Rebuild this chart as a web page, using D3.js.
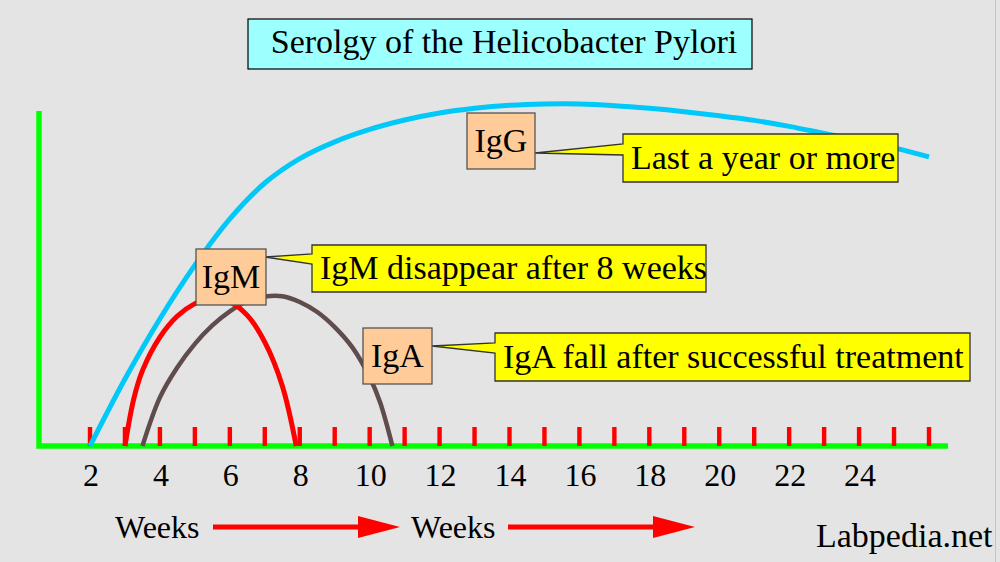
<!DOCTYPE html>
<html>
<head>
<meta charset="utf-8">
<script src="https://cdn.jsdelivr.net/npm/d3@7"></script>
<style>
  html, body { margin: 0; padding: 0; background: #e4e4e4; }
  svg { display: block; }
  text { font-family: "Liberation Serif", "Times New Roman", serif; fill: #000; }
</style>
</head>
<body>
<svg id="chart" width="1000" height="562"></svg>
<script>
// ---------- DATA ----------
const titleText = "Serolgy of the Helicobacter Pylori";
const tickWeeks = [2,3,4,5,6,7,8,9,10,11,12,13,14,15,16,17,18,19,20,21,22,23,24,25,26];
const tickLabels = [2,4,6,8,10,12,14,16,18,20,22,24];

const igGWeeks  = [2, 3, 4, 5, 6, 7, 8, 9, 10, 11, 12, 13, 14, 15, 16, 17, 18, 19, 20, 21, 22, 23, 24, 25, 26];
const igGValues = [0, 20, 38, 54, 67.8, 78.5, 85.8, 90.8, 94.5, 97.3, 99.4, 100.8, 101.7, 102.1, 102.1, 101.6, 100.8, 99.8, 98.6, 97.2, 95.4, 93.3, 91.2, 89, 86.3];

const igMWeeks  = [3, 3.25, 3.5, 4, 4.5, 5, 5.5, 6, 6.5, 7, 7.5, 7.9];
const igMValues = [0, 14, 22.5, 32.5, 38.8, 42.5, 44.3, 43, 39, 31, 18, 0];

const igAWeeks  = [3.5, 4, 4.5, 5, 5.5, 6, 6.5, 7, 7.5, 8, 8.5, 9, 9.5, 10, 10.3, 10.65];
const igAValues = [0, 14.5, 23.5, 30.5, 36, 40.2, 43.2, 44.6, 44.7, 43, 40, 35.5, 29.5, 20.5, 13, 0];

const seriesNames = ["IgG", "IgM", "IgA"];
const calloutTexts = ["Last a year or more", "IgM disappear after 8 weeks", "IgA fall after successful treatment"];
const axisWord = "Weeks";
const credit = "Labpedia.net";

// ---------- SETUP ----------
const svg = d3.select("#chart");
const x = d3.scaleLinear().domain([2, 26]).range([90, 929]);
const y = d3.scaleLinear().domain([0, 100]).range([446, 111]);

svg.append("rect").attr("width", 1000).attr("height", 562).attr("fill", "#e4e4e4");
svg.append("line").attr("x1", 995.5).attr("x2", 995.5).attr("y1", 0).attr("y2", 562)
  .attr("stroke", "#c4c4c4").attr("stroke-width", 1);

// Title
svg.append("rect").attr("x", 248).attr("y", 19).attr("width", 504).attr("height", 50)
  .attr("fill", "#9effff").attr("stroke", "#000").attr("stroke-width", 1.2);
svg.append("text").attr("x", 504).attr("y", 53).attr("text-anchor", "middle")
  .attr("font-size", 34).text(titleText);

// Axes frame (green)
svg.append("path")
  .attr("d", `M39,${y(100)} L39,${y(0)} L948,${y(0)}`)
  .attr("fill", "none").attr("stroke", "#00ff00").attr("stroke-width", 5.5)
  .attr("stroke-linejoin", "miter");

// Red ticks
svg.append("g").selectAll("rect").data(tickWeeks).join("rect")
  .attr("x", d => x(d) - 2.2).attr("y", 427).attr("width", 4.4).attr("height", 19)
  .attr("fill", "#ff0000");

// Tick labels
svg.append("g").selectAll("text").data(tickLabels).join("text")
  .attr("x", d => x(d) + 1).attr("y", 486).attr("text-anchor", "middle")
  .attr("font-size", 32).text(d => d);

// Curves
const line = d3.line().x(d => x(d[0])).y(d => y(d[1])).curve(d3.curveCatmullRom.alpha(0.5));
const zip = (a, b) => a.map((v, i) => [v, b[i]]);
svg.append("path").attr("d", line(zip(igAWeeks, igAValues)))
  .attr("fill", "none").attr("stroke", "#604c4c").attr("stroke-width", 4.5);
svg.append("path").attr("d", line(zip(igMWeeks, igMValues)))
  .attr("fill", "none").attr("stroke", "#ff0000").attr("stroke-width", 5);
svg.append("path").attr("d", line(zip(igGWeeks, igGValues)))
  .attr("fill", "none").attr("stroke", "#00c8f8").attr("stroke-width", 5);

// Label boxes
const boxes = [
  {name: seriesNames[0], x0: 467, y0: 113, x1: 535, y1: 169},
  {name: seriesNames[1], x0: 196, y0: 249, x1: 266, y1: 305},
  {name: seriesNames[2], x0: 363, y0: 328, x1: 432, y1: 384}
];
const callouts = [
  {text: calloutTexts[0], x0: 623, y0: 134, x1: 898, y1: 182, tx: 535, ty: 153, b0: 144, b1: 155},
  {text: calloutTexts[1], x0: 312, y0: 245, x1: 706, y1: 292, tx: 265, ty: 257, b0: 254, b1: 264},
  {text: calloutTexts[2], x0: 495, y0: 333, x1: 970, y1: 381, tx: 432, ty: 346, b0: 343, b1: 353}
];

callouts.forEach(c => {
  const p = `M${c.x0},${c.y0} L${c.x1},${c.y0} L${c.x1},${c.y1} L${c.x0},${c.y1} L${c.x0},${c.b1} L${c.tx},${c.ty} L${c.x0},${c.b0} Z`;
  svg.append("path").attr("d", p).attr("fill", "#ffff00")
    .attr("stroke", "#333").attr("stroke-width", 1.3).attr("stroke-linejoin", "miter");
  svg.append("text").attr("x", c.x0 + 8).attr("y", (c.y0 + c.y1) / 2 + 10.5)
    .attr("font-size", 34).text(c.text);
});

boxes.forEach(b => {
  svg.append("rect").attr("x", b.x0).attr("y", b.y0).attr("width", b.x1 - b.x0).attr("height", b.y1 - b.y0)
    .attr("fill", "#ffcc99").attr("stroke", "#555").attr("stroke-width", 1.3);
  svg.append("text").attr("x", (b.x0 + b.x1) / 2).attr("y", (b.y0 + b.y1) / 2 + 11)
    .attr("text-anchor", "middle").attr("font-size", 34).text(b.name);
});

// Bottom "Weeks" arrows
const arrows = [
  {label: axisWord, tx: 115, x0: 213, x1: 400},
  {label: axisWord, tx: 411, x0: 508, x1: 695}
];
arrows.forEach(a => {
  svg.append("text").attr("x", a.tx).attr("y", 538).attr("font-size", 32).text(a.label);
  svg.append("line").attr("x1", a.x0).attr("x2", a.x1 - 40).attr("y1", 527).attr("y2", 527)
    .attr("stroke", "#ff0000").attr("stroke-width", 5);
  svg.append("path").attr("d", `M${a.x1 - 42},516 L${a.x1},527 L${a.x1 - 42},538 Z`).attr("fill", "#ff0000");
});

svg.append("text").attr("x", 816).attr("y", 547).attr("font-size", 34).text(credit);
</script>
</body>
</html>
